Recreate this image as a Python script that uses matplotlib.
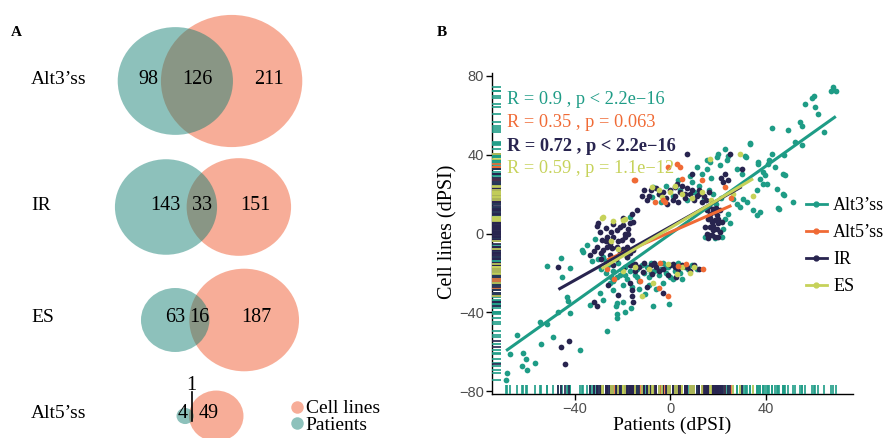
import numpy as np
import matplotlib
matplotlib.use("Agg")
import matplotlib.pyplot as plt
import matplotlib.transforms as mtransforms
from matplotlib.patches import Ellipse
from matplotlib.lines import Line2D

plt.rcParams['font.family'] = ['Liberation Serif', 'DejaVu Serif']

# ---- panel A : overlap of events between patients and cell lines ----
events = ["Alt3’ss", "IR", "ES", "Alt5’ss"]
patients_only = [98, 143, 63, 4]
shared = [126, 33, 16, 1]
cells_only = [211, 151, 187, 49]

# ---- panel B : dPSI in patients (x) vs cell lines (y) ----
groups = ["Alt3’ss", "Alt5’ss", "IR", "ES"]
cor_text = ["R = 0.9 , p < 2.2e−16", "R = 0.35 , p = 0.063",
            "R = 0.72 , p < 2.2e−16", "R = 0.59 , p = 1.1e−12"]
fit_slope = [0.862, 0.53, 0.68, 0.72]
fit_icpt = [-0.2, 0.7, 3.5, 2.9]

alt3 = np.array([
    (-68.8, -74.6), (-68.5, -70.6), (-67.2, -61.1), (-64.3, -51.5), (-62.3, -67.2),
    (-61.6, -60.5), (-60.5, -63.8), (-59.9, -69.2), (-56.7, -65.8), (-54.6, -44.8),
    (-54.3, -56.2), (-51.8, -45.9), (-51.8, -16.4), (-49.0, -52.7), (-47.0, -39.7),
    (-45.9, -12.2), (-45.3, -22.0), (-43.4, -32.1), (-42.8, -34.3), (-42.0, -40.5),
    (-42.0, -17.4), (-37.9, -59.1), (-37.2, -8.5), (-36.5, -9.3), (-35.0, -5.9),
    (-33.7, -36.3), (-31.6, -3.0), (-30.2, -12.7), (-28.1, -11.8), (-26.7, -49.5),
    (-24.0, -28.7), (-22.8, -36.8), (-22.5, -35.4), (-22.5, -40.9), (-22.5, -43.0),
    (-20.0, -34.6), (-19.0, -40.0), (-16.5, -38.0), (-10.7, -30.7), (-7.4, -36.8),
    (-0.6, -36.0), (-17.0, 8.4), (-29.5, -30.4), (-28.1, -33.8), (-25.3, -25.3),
    (-22.5, -22.0), (-20.4, -18.6), (-33.0, -14.0), (-27.0, -14.0),
    (-26.0, -16.0), (-24.0, -19.0), (-22.0, -15.0), (-21.0, -21.0), (-19.0, -17.0),
    (-18.0, -23.0), (-17.0, -19.0), (-16.0, -15.0), (-15.0, -21.0), (-14.0, -18.0),
    (-13.0, -24.0), (-12.0, -16.0), (-11.0, -20.0), (-10.0, -17.0), (-9.0, -22.0),
    (-8.0, -15.0), (-7.0, -19.0), (-6.0, -16.0), (-5.0, -21.0), (-4.0, -18.0),
    (-3.0, -15.0), (-2.0, -20.0), (-1.0, -17.0), (0.0, -22.0), (1.0, -16.0),
    (2.0, -19.0), (3.0, -15.0), (4.0, -20.0), (-25.0, -22.0), (-20.0, -26.0),
    (-16.0, -27.0), (-13.0, -28.0), (-9.0, -26.0), (-23.0, -13.0), (-18.0, -12.0),
    (-27.0, -20.0), (-29.0, -18.0), (6.0, -17.0), (9.0, -16.0), (11.0, -18.0),
    (5.0, -23.0), (-3.0, -25.0), (-6.0, -28.0), (7.5, -18.2),
    (-24.0, -24.0), (-19.0, -21.0), (-14.0, -22.0), (-8.0, -20.0), (-2.0, -17.0),
    (1.0, -23.0),
    (-7.2, 23.6), (-7.9, 18.5), (-5.0, 20.0), (-2.0, 24.0), (1.0, 19.0), (4.0, 22.0),
    (7.0, 17.0), (10.0, 21.0), (12.0, 24.0), (14.0, 18.0), (16.0, 22.0), (9.0, 26.0),
    (3.0, 27.0), (-4.0, 16.0), (18.0, 20.0), (13.0, 30.0), (11.0, 34.0), (8.0, 29.0),
    (17.0, 28.0), (19.0, 15.0), (21.0, 18.0),
    (20.0, 40.5), (19.3, 38.8), (16.5, 36.3), (15.1, 32.9), (20.7, 34.6), (23.5, 37.1),
    (27.7, 32.9), (29.8, 30.4), (31.2, 39.6), (33.3, 45.6), (36.7, 35.4), (38.8, 31.2),
    (38.8, 25.3), (42.3, 40.5), (47.2, 30.4), (36.1, 21.9), (34.6, 11.8), (37.4, 10.9),
    (45.1, 12.7), (47.2, 20.3), (30.5, 17.7), (31.9, 16.0), (29.1, 13.5), (27.7, 15.2),
    (26.3, 17.7), (24.2, 10.1), (24.9, 5.1), (22.8, 7.6), (22.1, 2.5), (21.4, -1.7),
    (18.6, -2.5), (14.4, -1.7), (68.1, 74.6), (69.2, 72.2), (67.0, 72.2), (60.0, 70.0),
    (59.1, 68.9), (56.3, 65.8), (60.5, 64.1), (61.8, 60.8), (64.2, 51.4), (54.2, 56.5),
    (54.9, 54.8), (49.0, 52.8), (42.3, 53.5), (52.1, 46.4), (54.9, 45.1), (47.5, 40.0),
    (41.2, 37.1), (40.7, 35.4), (36.7, 36.3), (43.7, 33.7), (47.9, 29.5), (33.3, 46.1),
    (31.6, 38.8), (44.7, 22.8), (47.5, 19.4), (51.4, 16.0), (45.5, 12.2), (36.1, 9.3),
    (37.4, 27.8), (39.5, 29.5), (40.2, 25.3), (22.8, 43.0), (24.2, 39.6), (15.1, 37.1),
])

alt5 = np.array([
    (-26.5, -18.0), (-23.6, -23.3), (-15.3, 27.3), (-14.9, 27.0), (-12.8, -24.0),
    (-6.5, 16.0), (-4.7, -27.5), (-4.4, -15.2), (-3.0, 16.9), (-2.3, 16.0),
    (-1.2, -31.6), (-0.9, 33.7), (2.6, 35.4), (3.3, -16.4), (4.0, 33.7), (4.7, 27.8),
    (6.5, -15.5), (13.1, 27.3), (13.7, -18.2), (22.8, 23.6), (25.5, 18.0),
])

ir = np.array([
    (-30.2, 5.1), (-29.5, 0.8), (-26.7, -1.7), (-22.5, 1.7), (-19.7, 4.2), (-17.0, 5.1),
    (-15.6, 5.9), (-17.7, 0.0), (-20.4, -3.4), (-25.3, -5.1), (-22.5, -6.8), (-18.3, -6.8),
    (-28.1, -8.5), (-30.9, -6.8), (-33.7, -11.0), (-25.3, -11.0), (-21.1, -10.1),
    (-16.2, -3.4), (-15.6, -8.5), (-23.9, -1.7), (-19.0, -1.7), (-21.1, 3.4), (-28.8, -3.4),
    (-17.7, 2.5), (-26.7, -6.8), (-24.6, -7.6), (-30.9, 3.9), (-27.0, 3.0), (-24.0, 5.0),
    (-20.0, 8.0), (-16.0, 10.0), (-14.0, 12.0), (-18.0, -12.0), (-23.0, -13.0),
    (-29.0, -13.0), (-32.0, -9.0), (-27.0, -4.0), (-22.0, -4.0), (-19.0, 0.0),
    (-25.0, 1.0), (-29.0, -10.0), (-20.0, -8.0), (-17.0, -10.0),
    (-46.9, -17.2), (-42.5, -54.4), (-45.8, -57.7), (-44.1, -66.2), (-32.2, -35.0),
    (-30.8, -37.0), (-15.6, -34.6), (-16.2, -31.7), (-16.2, -28.7), (-3.3, -30.0),
    (2.3, -22.3), (1.2, -15.5), (-10.0, -27.0), (-7.9, -20.8), (-11.5, -19.4),
    (-14.8, -15.5), (-16.7, -15.9), (-26.0, -26.2), (-16.9, -25.3), (-21.8, -31.2),
    (-20.0, -18.0), (-17.0, -16.0), (-13.0, -17.0), (-9.0, -18.0), (-6.0, -17.0),
    (-3.0, -18.0), (0.0, -16.0), (3.0, -18.0), (5.0, -16.0), (8.0, -19.0), (10.0, -16.0),
    (12.0, -18.0), (-11.0, -15.0), (-1.0, -21.0), (-7.0, -15.0), (-15.0, -19.0),
    (-5.0, -19.0), (2.0, -17.0), (7.0, -17.0), (-24.0, -16.0), (-8.0, -16.0),
    (6.8, 40.5), (2.6, 25.3), (-1.6, 15.2), (8.9, 30.4), (1.9, 23.6), (2.0, 19.0),
    (4.0, 21.0), (6.0, 18.0), (8.0, 20.0), (10.0, 17.0), (12.0, 22.0), (14.0, 19.0),
    (16.0, 21.0), (0.0, 22.0), (-2.0, 18.0), (-5.0, 20.0), (-8.0, 22.0), (-10.0, 17.0),
    (-12.0, 19.0), (3.0, 16.0), (7.0, 23.0), (11.0, 19.0), (13.0, 16.0),
    (-9.0, 19.0), (-6.0, 23.0), (-3.0, 21.0), (1.0, 17.0), (5.0, 24.0), (9.0, 22.0),
    (12.0, 20.0), (15.0, 17.0), (-11.0, 22.0), (6.0, 20.0),
    (15.1, 11.8), (16.5, 10.1), (17.9, 10.9), (19.3, 9.3), (15.8, 7.6), (17.2, 5.9),
    (18.6, 6.7), (20.0, 5.1), (16.5, 3.3), (17.9, 1.7), (19.3, 2.5), (20.7, 0.8),
    (15.1, 0.0), (17.2, -0.9), (18.6, -1.7), (15.8, -2.5), (21.4, 5.9), (14.4, 3.3),
    (20.7, 11.8), (16.0, 14.0), (19.0, 13.0), (16.5, 8.0), (18.0, 4.0), (19.8, 7.5),
    (16.0, -1.0), (18.0, 12.5), (20.0, -2.0),
    (21.0, 28.0), (23.0, 30.0), (24.0, 27.0), (22.0, 26.0), (24.9, 40.2), (29.8, 32.9),
])

es = np.array([
    (-28.8, 8.1), (-28.1, 8.4), (-23.9, 6.4), (-19.0, 7.2), (-19.7, 7.1), (-25.0, -4.0),
    (-22.0, -8.0), (-20.0, -19.0), (-15.0, -17.0), (-12.0, -31.7), (-9.0, -18.0),
    (-7.9, 23.6), (-7.4, -25.0), (-5.0, 22.0), (-3.7, 18.5), (-0.9, -15.5), (-0.2, 21.1),
    (2.0, 24.0), (2.7, -20.8), (4.8, -17.0), (5.0, 20.0), (8.0, -20.0), (9.0, 18.0),
    (10.0, -17.0), (13.0, 21.0), (16.5, 37.9), (17.0, 17.0), (26.0, 20.0), (29.1, 40.5),
    (34.6, 18.9),
])

alt3_x, alt3_y = alt3.T
alt5_x, alt5_y = alt5.T
ir_x, ir_y = ir.T
es_x, es_y = es.T

teal = "#1E9C86"
orange = "#F06A35"
navy = "#28244F"
yellow = "#C6D25A"
colors = [teal, orange, navy, yellow]
series = [(alt3_x, alt3_y), (alt5_x, alt5_y), (ir_x, ir_y), (es_x, es_y)]


def lens_area(r1, r2, d):
    if d >= r1 + r2:
        return 0.0
    if d <= abs(r1 - r2):
        return np.pi * min(r1, r2) ** 2
    a1 = r1 ** 2 * np.arccos((d * d + r1 * r1 - r2 * r2) / (2 * d * r1))
    a2 = r2 ** 2 * np.arccos((d * d + r2 * r2 - r1 * r1) / (2 * d * r2))
    a3 = 0.5 * np.sqrt((-d + r1 + r2) * (d + r1 - r2) * (d - r1 + r2) * (d + r1 + r2))
    return a1 + a2 - a3


def centre_distance(r1, r2, n_shared):
    # bisection so the lens area is proportional to the shared count
    lo, hi = abs(r1 - r2), r1 + r2
    target = np.pi * n_shared
    for _ in range(60):
        mid = 0.5 * (lo + hi)
        if lens_area(r1, r2, mid) > target:
            lo = mid
        else:
            hi = mid
    return 0.5 * (lo + hi)


fig = plt.figure(figsize=(8.88, 4.38), dpi=100)

# ---------------- panel A ----------------
axA = fig.add_axes([0, 0, 0.5, 1])
axA.set_xlim(0, 444)
axA.set_ylim(438, 0)
axA.axis('off')

kx, ky = 3.85, 3.6          # pixels per unit radius
row_y = [81, 207, 320, 416]
row_cx = [210, 203, 220, 210]
venn_orange = "#F26B43"
venn_teal = "#0E7D70"
num_size = 14.5

for i, ev in enumerate(events):
    r1 = np.sqrt(patients_only[i] + shared[i])
    r2 = np.sqrt(cells_only[i] + shared[i])
    d = centre_distance(r1, r2, shared[i])
    left = row_cx[i] - (r1 + d + r2) * kx / 2
    c1 = left + r1 * kx
    c2 = c1 + d * kx
    y = row_y[i]
    axA.add_patch(Ellipse((c2, y), 2 * r2 * kx, 2 * r2 * ky, fc=venn_orange, ec='none', alpha=0.55))
    axA.add_patch(Ellipse((c1, y), 2 * r1 * kx, 2 * r1 * ky, fc=venn_teal, ec='none', alpha=0.47))

    tl, tr = c1 - r1 * kx, c1 + r1 * kx
    ol, orr = c2 - r2 * kx, c2 + r2 * kx
    ty = y - 2
    axA.text(31, ty, ev, fontsize=14, ha='left', va='center')
    if shared[i] < 5:
        mid = (ol + tr) / 2 + 1
        axA.text(c1 - 2, ty, str(patients_only[i]), fontsize=num_size, ha='center', va='center')
        axA.text(mid - 1, y - 31, str(shared[i]), fontsize=num_size, ha='center', va='center')
        axA.plot([mid, mid], [y - 24, y + 5], color='black', lw=1.2)
        axA.text(tr + 0.3 * (orr - tr), ty, str(cells_only[i]), fontsize=num_size, ha='center', va='center')
    else:
        axA.text((tl + ol) / 2 + 0.2 * (ol - tl), ty, str(patients_only[i]), fontsize=num_size, ha='center', va='center')
        axA.text((ol + tr) / 2, ty, str(shared[i]), fontsize=num_size, ha='center', va='center')
        axA.text((tr + orr) / 2 + 0.02 * (orr - tr), ty, str(cells_only[i]), fontsize=num_size, ha='center', va='center')

legA = [Line2D([], [], ls='none', marker='o', ms=9, color=venn_orange, alpha=0.55, mec='none'),
        Line2D([], [], ls='none', marker='o', ms=9, color=venn_teal, alpha=0.47, mec='none')]
axA.legend(legA, ["Cell lines", "Patients"], loc='center left', bbox_to_anchor=(291, 417),
           bbox_transform=axA.transData, frameon=False, fontsize=14, handlelength=0.6,
           handletextpad=0.15, labelspacing=-0.04, borderpad=0, borderaxespad=0)

fig.text(16 / 888, 1 - 33 / 438, "A", fontsize=11, fontweight='bold', ha='center', va='center')
fig.text(442 / 888, 1 - 32 / 438, "B", fontsize=11, fontweight='bold', ha='center', va='center')

# ---------------- panel B ----------------
axB = fig.add_axes([492 / 888, 1 - 394 / 438, 361 / 888, 321 / 438])
axB.set_xlim(-74.7, 76.4)
axB.set_ylim(-81.5, 81.5)

draw_order = [0, 2, 3, 1]
for k in draw_order:
    x, y = series[k]
    axB.scatter(x, y, s=17, color=colors[k], lw=0, zorder=2)

for k in range(4):
    x, _ = series[k]
    xs = np.array([x.min(), x.max()])
    axB.plot(xs, fit_slope[k] * xs + fit_icpt[k], color=colors[k], lw=2.2,
             solid_capstyle='butt', zorder=3)

# marginal rugs
tx = mtransforms.blended_transform_factory(axB.transData, axB.transAxes)
ty_ = mtransforms.blended_transform_factory(axB.transAxes, axB.transData)
for k in range(4):
    x, y = series[k]
    axB.vlines(x, 0, 0.027, transform=tx, color=colors[k], lw=1.2, zorder=4)
    axB.hlines(y, 0, 0.025, transform=ty_, color=colors[k], lw=1.2, zorder=4)

text_y = [67.8, 56.2, 44.2, 32.9]
for k in range(4):
    axB.text(-68.4, text_y[k], cor_text[k], color=colors[k], fontsize=13.2, ha='left', va='center',
             fontweight='bold' if groups[k] == "IR" else 'normal', zorder=5)

for side in ['top', 'right']:
    axB.spines[side].set_visible(False)
for side in ['left', 'bottom']:
    axB.spines[side].set_linewidth(1.0)
axB.set_xticks([-40, 0, 40])
axB.set_yticks([-80, -40, 0, 40, 80])
axB.tick_params(length=4, width=1, color='black', labelsize=10.5, labelcolor='#4d4d4d', pad=2)
for lab in axB.get_xticklabels() + axB.get_yticklabels():
    lab.set_fontfamily('Liberation Sans')

fig.text(448 / 888, 1 - 232 / 438, "Cell lines (dPSI)", fontsize=14.5, rotation=90, ha='center', va='center')
fig.text(672 / 888, 1 - 425 / 438, "Patients (dPSI)", fontsize=14, ha='center', va='center')

legB = [Line2D([], [], color=c, lw=2, marker='o', ms=3.5) for c in colors]
fig.legend(legB, groups, loc='center left', bbox_to_anchor=(806 / 888, 1 - 246 / 438),
           frameon=False, fontsize=13, handlelength=1.15, handletextpad=0.35,
           labelspacing=0.55, borderpad=0, borderaxespad=0)

fig.savefig("out.png", dpi=100)
